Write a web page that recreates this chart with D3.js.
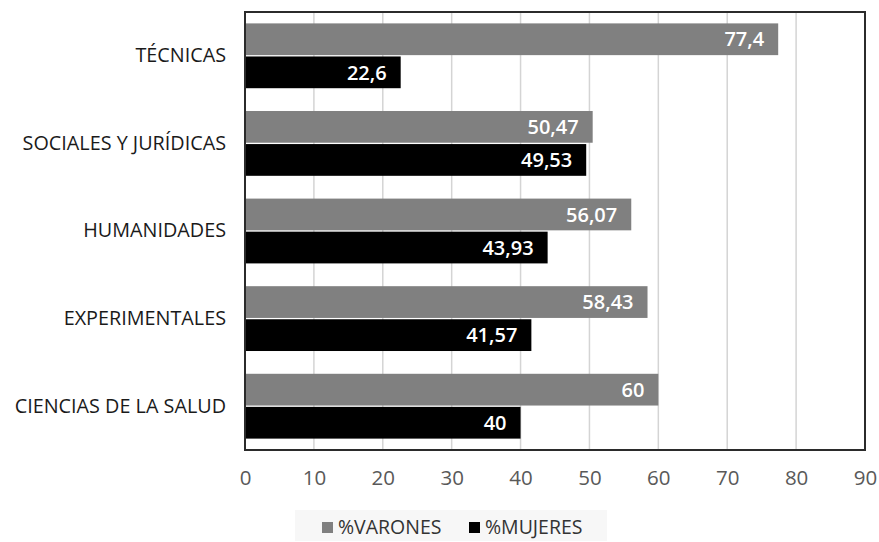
<!DOCTYPE html>
<html>
<head>
<meta charset="utf-8">
<script src="https://cdn.jsdelivr.net/npm/d3@7/dist/d3.min.js"></script>
<style>
  html, body { margin: 0; padding: 0; background: #fff; }
  svg { display: block; font-family: "Open Sans", sans-serif; }
</style>
</head>
<body>
<svg id="chart" width="879" height="542"></svg>
<script>
// Porcentaje de varones y mujeres por rama de conocimiento
const categories = ["TÉCNICAS", "SOCIALES Y JURÍDICAS", "HUMANIDADES", "EXPERIMENTALES", "CIENCIAS DE LA SALUD"];
const varones = [77.4, 50.47, 56.07, 58.43, 60];
const mujeres = [22.6, 49.53, 43.93, 41.57, 40];
const seriesNames = ["%VARONES", "%MUJERES"];
const ticks = [0, 10, 20, 30, 40, 50, 60, 70, 80, 90];

const colors = ["#808080", "#000000"];
const font = "'Open Sans', sans-serif";
const svg = d3.select("#chart");
const m = { left: 245, right: 865, top: 12, bottom: 450 };

const x = d3.scaleLinear().domain([0, 90]).range([m.left, m.right]);
const y = d3.scaleBand().domain(categories).range([m.top, m.bottom]).paddingInner(0.26).paddingOuter(0.13);
const sub = d3.scaleBand().domain([0, 1]).range([0, y.bandwidth()]).paddingInner(0.04);

// vertical gridlines
svg.append("g").selectAll("line").data(ticks.slice(1, -1)).join("line")
  .attr("x1", d => x(d)).attr("x2", d => x(d))
  .attr("y1", m.top).attr("y2", m.bottom)
  .attr("stroke", "#d4d4d4").attr("stroke-width", 1.5);

const rows = categories.map((c, i) => ({ c, vals: [varones[i], mujeres[i]] }));
const fmt = v => String(v).replace(".", ",");

const g = svg.append("g").selectAll("g").data(rows).join("g")
  .attr("transform", d => `translate(0,${y(d.c)})`);

g.selectAll("rect").data(d => d.vals).join("rect")
  .attr("x", x(0))
  .attr("y", (d, i) => sub(i))
  .attr("width", d => x(d) - x(0))
  .attr("height", sub.bandwidth())
  .attr("fill", (d, i) => colors[i]);

g.selectAll("text.val").data(d => d.vals).join("text")
  .attr("class", "val")
  .attr("x", d => x(d) - 14)
  .attr("y", (d, i) => sub(i) + sub.bandwidth() / 2)
  .attr("dy", "0.36em")
  .attr("text-anchor", "end")
  .attr("fill", "#fff")
  .attr("font-weight", 600)
  .attr("font-size", 20)
  .attr("font-family", font)
  .text(d => fmt(d));

// plot frame
svg.append("rect")
  .attr("x", m.left).attr("y", m.top)
  .attr("width", m.right - m.left).attr("height", m.bottom - m.top)
  .attr("fill", "none").attr("stroke", "#2b2b2b").attr("stroke-width", 2);

// x axis tick labels
const xAxis = d3.axisBottom(x).tickValues(ticks).tickSize(0).tickPadding(20);
const xa = svg.append("g").attr("transform", `translate(0,${m.bottom})`).call(xAxis);
xa.select(".domain").remove();
xa.selectAll("text").attr("font-size", 20.5).attr("fill", "#595959").attr("font-family", font);

// category labels
const yAxis = d3.axisLeft(y).tickSize(0).tickPadding(19);
const ya = svg.append("g").attr("transform", `translate(${m.left},0)`).call(yAxis);
ya.select(".domain").remove();
ya.selectAll("text").attr("font-size", 19.8).attr("fill", "#1a1a1a").attr("font-family", font);

// legend
const lg = svg.append("g");
lg.append("rect").attr("x", 295).attr("y", 510).attr("width", 312).attr("height", 31).attr("fill", "#f7f7f7");
const items = [{ name: seriesNames[0], c: colors[0], x: 322 }, { name: seriesNames[1], c: colors[1], x: 469 }];
const li = lg.selectAll("g").data(items).join("g").attr("transform", d => `translate(${d.x},527)`);
li.append("rect").attr("x", 0).attr("y", -5).attr("width", 11).attr("height", 11).attr("fill", d => d.c);
li.append("text").attr("x", 16).attr("dy", "0.36em").attr("font-size", 19.5).attr("fill", "#333")
  .attr("font-family", font).text(d => d.name);
</script>
</body>
</html>
